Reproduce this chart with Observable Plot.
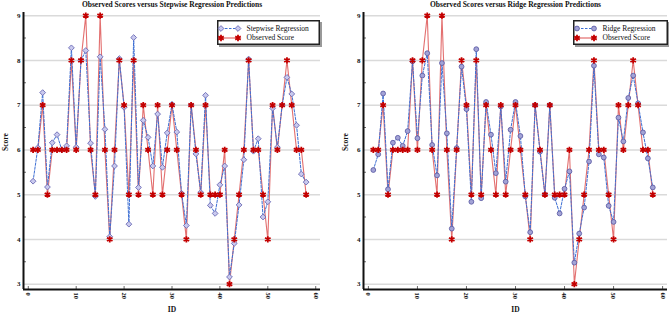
<!DOCTYPE html>
<html><head><meta charset="utf-8">
<script src="https://cdn.jsdelivr.net/npm/d3@7"></script>
<script src="https://cdn.jsdelivr.net/npm/@observablehq/plot@0.6"></script>
<style>
body{margin:0;background:#fff;}
#wrap{position:relative;width:669px;height:314px;overflow:hidden;background:#fff;}
#left,#right{position:absolute;top:0;}
#left{left:0;} #right{left:334px;}
.legend{position:absolute;}
</style></head>
<body><div id="wrap"><div id="left"></div><div id="right"></div></div>
<script>
const ids = [1,2,3,4,5,6,7,8,9,10,11,12,13,14,15,16,17,18,19,20,21,22,23,24,25,26,27,28,29,30,31,32,33,34,35,36,37,38,39,40,41,42,43,44,45,46,47,48,49,50,51,52,53,54,55,56,57,58];
const observed = [6,6,7,5,6,6,6,6,8,6,8,9,6,5,9,6,4,6,8,7,5,8,5,7,6,5,7,5,6,7,6,5,4,7,6,5,7,5,5,5,6,3,4,5,6,8,6,6,5,4,7,6,7,8,7,6,6,5];
const stepwise = [5.30,6.05,7.28,5.17,6.16,6.34,6.00,6.09,8.28,6.06,8.00,8.22,6.15,4.96,8.08,6.46,4.06,5.64,8.04,6.95,4.34,8.51,5.16,6.66,6.28,5.64,6.80,5.61,6.38,7.02,6.40,5.03,4.31,7.00,5.91,5.05,7.22,4.76,4.58,5.22,5.64,3.16,3.91,4.77,5.78,8.03,5.97,6.25,4.50,4.84,6.93,6.06,7.00,7.62,7.25,6.55,5.46,5.28];
const ridge = [5.55,5.90,7.26,5.12,6.16,6.27,6.09,6.42,7.98,6.26,7.66,8.16,6.11,5.43,7.94,6.37,4.24,6.04,7.86,6.91,4.84,8.25,4.92,7.07,6.34,5.48,6.97,5.29,6.45,7.07,6.31,4.96,4.16,7.00,5.96,5.00,7.00,4.93,4.58,5.13,5.52,3.48,4.13,4.71,5.74,7.88,5.90,5.83,4.75,4.39,6.72,6.19,7.16,7.66,7.04,6.39,5.81,5.16];
const xTicks = [0,10,20,30,40,50,60];
const yTicks = [3,4,5,6,7,8,9];
const yMinor = [3.5,4.5,5.5,6.5,7.5,8.5];
const titles = ["Observed Scores versus Stepwise Regression Predictions","Observed Scores versus Ridge Regression Predictions"];
const seriesNames = ["Stepwise Regression","Ridge Regression","Observed Score"];

const FONT = "'Liberation Serif', 'Times New Roman', serif";
const RED = "#c40000", REDLINE = "#e06060", BLUELINE = "#3d6fd4";

function panel(o) {
  const rows = ids.map((id, i) => ({id, obs: observed[i], pred: o.pred[i]}));
  const H = 314, mt = 12, mb = 25;
  const plotW = o.width - o.marginLeft - o.marginRight;
  const plotH = H - mt - mb;
  return Plot.plot({
    width: o.width, height: H, marginTop: mt, marginBottom: mb,
    marginLeft: o.marginLeft, marginRight: o.marginRight,
    style: {background: "transparent", fontFamily: FONT, overflow: "visible", color: "#111"},
    x: {domain: [-1, 61]},
    y: {domain: [2.88, 9.07]},
    marks: [
      Plot.ruleY(yTicks, {stroke: "#dadada", strokeWidth: 1.5}),
      Plot.tickY(yMinor, {stroke: "#444", strokeWidth: 0.8, insetRight: plotW - 3}),
      Plot.tickX(xTicks, {stroke: "#444", strokeWidth: 0.8, insetTop: plotH - 3}),
      Plot.axisY({ticks: yTicks, tickFormat: d => String(d), tickSize: 0, tickPadding: 3, fontSize: 7, fontWeight: "bold", label: null}),
      Plot.axisX({ticks: xTicks, tickFormat: d => String(d), tickSize: 0, tickPadding: 3, tickRotate: 90, fontSize: 6.5, fontWeight: "bold", label: null}),
      Plot.lineY(rows, {x: "id", y: "obs", stroke: REDLINE, strokeWidth: 1.1, strokeOpacity: 0.9}),
      Plot.lineY(rows, {x: "id", y: "pred", stroke: BLUELINE, strokeWidth: 1, strokeDasharray: "2.5,1.5"}),
      Plot.dot(rows, {x: "id", y: "pred", symbol: o.symbol, r: o.r, fill: o.fill, stroke: o.stroke, strokeWidth: 0.9}),
      Plot.dot(rows, {x: "id", y: "obs", symbol: "asterisk", r: 3, stroke: RED, strokeWidth: 1.8}),
      Plot.ruleX([-1], {stroke: "#111", strokeWidth: 2}),
      Plot.ruleY([2.88], {stroke: "#111", strokeWidth: 2}),
      Plot.text([o.title], {frameAnchor: "top", dy: -8, lineAnchor: "middle", fontSize: 7.5, fontWeight: "bold"}),
      Plot.text(["Score"], {frameAnchor: "left", dx: -18, rotate: -90, fontSize: 7.5, fontWeight: "bold"}),
      Plot.text(["ID"], {frameAnchor: "bottom", dy: 22, fontSize: 7.5, fontWeight: "bold"})
    ]
  });
}

function legend(parent, o) {
  const w = o.w, h = 26;
  const svg = d3.select(parent).append("svg")
    .attr("class", "legend").attr("width", w + 3).attr("height", h + 3)
    .style("left", o.left + "px").style("top", o.top + "px");
  svg.append("rect").attr("x", 2).attr("y", 2).attr("width", w).attr("height", h - 1).attr("fill", "#999");
  svg.append("rect").attr("x", 0.75).attr("y", 0.75).attr("width", w - 1.5).attr("height", h - 2.5)
    .attr("fill", "#fff").attr("stroke", "#222").attr("stroke-width", 1.5);
  const rowsY = [8.5, 18];
  const x1 = 4, x2 = 21, tx = 29.5;
  svg.append("line").attr("x1", x1).attr("x2", x2).attr("y1", rowsY[0]).attr("y2", rowsY[0])
    .attr("stroke", BLUELINE).attr("stroke-dasharray", "2.5,1.5");
  const symP = d3.symbol(o.symbol === "circle" ? d3.symbolCircle : d3.symbolDiamond2, Math.PI * o.r * o.r)();
  [x1, x2].forEach(x => svg.append("path").attr("d", symP).attr("transform", `translate(${x},${rowsY[0]})`)
    .attr("fill", o.fill).attr("stroke", o.stroke).attr("stroke-width", 0.9));
  svg.append("text").attr("x", tx).attr("y", rowsY[0]).attr("dy", "0.32em").text(o.name)
    .attr("font-family", FONT).attr("font-size", 7.5).attr("fill", "#111");
  svg.append("line").attr("x1", x1).attr("x2", x2).attr("y1", rowsY[1]).attr("y2", rowsY[1])
    .attr("stroke", REDLINE).attr("stroke-width", 1.1);
  const symO = d3.symbol(d3.symbolAsterisk, Math.PI * 3 * 3)();
  [x1, x2].forEach(x => svg.append("path").attr("d", symO).attr("transform", `translate(${x},${rowsY[1]})`)
    .attr("fill", "none").attr("stroke", RED).attr("stroke-width", 1.8));
  svg.append("text").attr("x", tx).attr("y", rowsY[1]).attr("dy", "0.32em").text(seriesNames[2])
    .attr("font-family", FONT).attr("font-size", 7.5).attr("fill", "#111");
}

const left = document.getElementById("left");
const right = document.getElementById("right");
left.append(panel({pred: stepwise, title: titles[0], width: 334, marginLeft: 23, marginRight: 14,
  symbol: "diamond2", r: 2.6, fill: "#c9c9ee", stroke: "#6a6ab4"}));
right.append(panel({pred: ridge, title: titles[1], width: 335, marginLeft: 29, marginRight: 2,
  symbol: "circle", r: 2.4, fill: "#a3a3d6", stroke: "#5d5da6"}));
const wrap = document.getElementById("wrap");
legend(wrap, {left: 217, top: 20, w: 103, name: seriesNames[0], symbol: "diamond2", r: 2.6, fill: "#c9c9ee", stroke: "#6a6ab4"});
legend(wrap, {left: 573, top: 20, w: 95, name: seriesNames[1], symbol: "circle", r: 2.4, fill: "#a3a3d6", stroke: "#5d5da6"});
</script>
</body></html>
